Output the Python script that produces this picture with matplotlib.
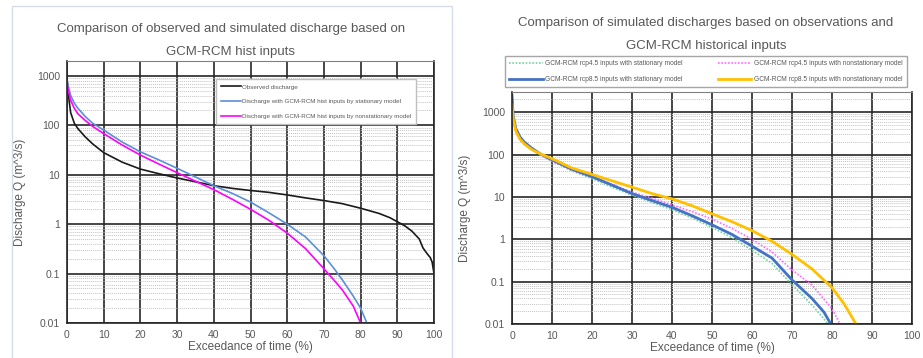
import matplotlib
matplotlib.use('Agg')
import matplotlib.pyplot as plt
from matplotlib.patches import Rectangle
from matplotlib.ticker import FixedLocator, NullFormatter
import numpy as np

plt.rcParams['font.family'] = ['Liberation Sans Narrow', 'Liberation Sans', 'DejaVu Sans']

# ---- left chart: observed vs GCM-RCM hist ----
obs_x = [0, 0.5, 1, 2, 3, 5, 7, 10, 15, 20, 25, 30, 35, 40, 45, 50, 55, 60, 65, 70, 75,
         80, 85, 88, 90, 92, 94, 96, 97, 98, 99, 99.5, 100]
obs_q = [900, 350, 180, 110, 85, 58, 42, 28, 18, 13, 10.5, 8.6, 7.2, 6.0, 5.3, 4.8, 4.4,
         3.9, 3.4, 3.0, 2.6, 2.1, 1.65, 1.35, 1.12, 0.93, 0.72, 0.5, 0.33, 0.26, 0.21, 0.17, 0.1]

hist_stat_x = [0, 0.5, 1, 2, 3, 5, 7, 10, 15, 20, 25, 30, 35, 40, 45, 50, 55, 60, 65, 70,
               73, 75, 78, 80, 81.7]
hist_stat_q = [800, 550, 400, 280, 220, 150, 110, 80, 46, 29, 20, 13.5, 9, 6.0, 4.2, 2.8,
               1.7, 1.0, 0.55, 0.23, 0.12, 0.075, 0.035, 0.02, 0.01]

hist_nonstat_x = [0, 0.5, 1, 2, 3, 5, 7, 10, 15, 20, 25, 30, 35, 40, 45, 50, 55, 60, 65, 70,
                  73, 75, 78, 80]
hist_nonstat_q = [700, 450, 320, 220, 170, 125, 95, 68, 40, 25, 16.5, 11, 7.4, 5.0, 3.2, 2.0,
                  1.2, 0.66, 0.32, 0.125, 0.07, 0.047, 0.022, 0.01]

# ---- right chart: rcp scenarios ----
rcp45_stat_x = [0, 0.3, 1, 2, 3, 5, 7, 10, 15, 20, 25, 30, 35, 40, 45, 50, 55, 60, 65, 70,
                75, 77, 79]
rcp45_stat_q = [3000, 750, 380, 250, 190, 135, 100, 70, 41, 27, 17, 11, 7.4, 5.0, 3.2, 1.9,
                1.1, 0.55, 0.27, 0.085, 0.028, 0.017, 0.01]

rcp45_nonstat_x = [0, 0.3, 1, 2, 3, 5, 7, 10, 15, 20, 25, 30, 35, 40, 45, 50, 55, 60, 65, 70,
                   75, 80, 82]
rcp45_nonstat_q = [1200, 600, 330, 230, 180, 130, 100, 70, 43, 30, 20, 13, 9.3, 6.5, 4.5, 3.0,
                   1.8, 1.0, 0.5, 0.19, 0.083, 0.023, 0.01]

rcp85_stat_x = [0, 0.3, 1, 2, 3, 5, 7, 10, 15, 20, 25, 30, 35, 40, 45, 50, 55, 60, 65, 70,
                75, 78, 79.7]
rcp85_stat_q = [2500, 800, 400, 260, 200, 140, 105, 75, 45, 30, 19, 12, 8.2, 5.7, 3.6, 2.2,
                1.3, 0.69, 0.36, 0.11, 0.04, 0.019, 0.01]

rcp85_nonstat_x = [0, 0.3, 1, 2, 3, 5, 7, 10, 15, 20, 25, 30, 35, 40, 45, 50, 55, 60, 65, 70,
                   75, 80, 83, 86]
rcp85_nonstat_q = [1500, 700, 350, 230, 180, 130, 105, 80, 48, 34, 24, 17, 12, 9, 6.2, 4.0,
                   2.6, 1.6, 0.9, 0.44, 0.2, 0.072, 0.03, 0.01]

x_ticks = list(range(0, 101, 10))
y_ticks = [0.01, 0.1, 1, 10, 100, 1000]
y_tick_labels = ['0.01', '0.1', '1', '10', '100', '1000']

TXT = '#595959'
TITLE_SIZE = 9.5


def style_axes(ax, ytop):
    ax.set_yscale('log')
    ax.set_xlim(0, 100)
    ax.set_ylim(0.01, ytop)
    ax.xaxis.set_major_locator(FixedLocator(x_ticks))
    ax.set_xticklabels([str(t) for t in x_ticks])
    ax.yaxis.set_major_locator(FixedLocator(y_ticks))
    ax.set_yticklabels(y_tick_labels)
    ax.yaxis.set_minor_locator(FixedLocator(
        [m * 10.0 ** e for e in range(-2, 4) for m in range(2, 10)]))
    ax.yaxis.set_minor_formatter(NullFormatter())
    ax.tick_params(which='both', length=0, labelsize=7.5, labelcolor=TXT, pad=5)
    ax.grid(True, which='minor', axis='y', color='#c4c4c4', linestyle=(0, (1, 1)), lw=0.7)
    ax.grid(True, which='major', axis='both', color='#262626', linestyle='-', lw=1.2)
    ax.set_axisbelow(True)
    for s in ['left', 'right', 'bottom']:
        ax.spines[s].set_color('#262626')
        ax.spines[s].set_linewidth(1.2)
    ax.spines['top'].set_color('#808080')
    ax.spines['top'].set_linestyle((0, (1, 1)))
    ax.set_xlabel('Exceedance of time (%)', fontsize=8.5, color=TXT, labelpad=1)
    ax.set_ylabel('Discharge Q (m^3/s)', fontsize=8.5, color=TXT, labelpad=8)


fig = plt.figure(figsize=(9.23, 3.58), dpi=100)

# light frame of the left chart
fig.patches.append(Rectangle((12 / 923, -0.02), 440 / 923, 1 - 6 / 358 + 0.02,
                             transform=fig.transFigure, fill=False,
                             edgecolor='#d6dce5', lw=1))

ax1 = fig.add_axes([67 / 923, 1 - 323 / 358, 367 / 923, 262 / 358])
style_axes(ax1, 2000)
ax1.plot(obs_x, obs_q, color='#1a1a1a', lw=1.2, label='Observed discharge')
ax1.plot(hist_stat_x, hist_stat_q, color='#5b8fd8', lw=1.2,
         label='Discharge with GCM-RCM hist inputs by stationary model')
ax1.plot(hist_nonstat_x, hist_nonstat_q, color='#ff00ff', lw=1.2,
         label='Discharge with GCM-RCM hist inputs by nonstationary model')
leg1 = ax1.legend(loc='upper left', bbox_to_anchor=(213 / 923, 1 - 127 / 358, 206 / 923, 51 / 358),
                  bbox_transform=fig.transFigure, mode='expand', fontsize=4.5,
                  frameon=True, fancybox=False, edgecolor='#bfbfbf', framealpha=1,
                  handlelength=3.2, labelspacing=1.5, borderpad=0.8, handletextpad=0.2)
for t in leg1.get_texts():
    t.set_color(TXT)
fig.text(231 / 923, 1 - 29 / 358, 'Comparison of observed and simulated discharge based on',
         ha='center', va='center', fontsize=TITLE_SIZE, color=TXT)
fig.text(231 / 923, 1 - 52 / 358, 'GCM-RCM hist inputs',
         ha='center', va='center', fontsize=TITLE_SIZE, color=TXT)

ax2 = fig.add_axes([512 / 923, 1 - 324 / 358, 400 / 923, 232 / 358])
style_axes(ax2, 3000)
ax2.plot(rcp45_stat_x, rcp45_stat_q, color='#6fd49f', lw=1.2, linestyle=(0, (1, 1)),
         label='GCM-RCM rcp4.5 inputs with stationary model')
ax2.plot(rcp45_nonstat_x, rcp45_nonstat_q, color='#ff6bff', lw=1.2, linestyle=(0, (1, 1)),
         label='GCM-RCM rcp4.5 inputs with nonstationary model')
ax2.plot(rcp85_stat_x, rcp85_stat_q, color='#4472c4', lw=2.0,
         label='GCM-RCM rcp8.5 inputs with stationary model')
ax2.plot(rcp85_nonstat_x, rcp85_nonstat_q, color='#ffc000', lw=2.0,
         label='GCM-RCM rcp8.5 inputs with nonstationary model')
handles, labels = ax2.get_legend_handles_labels()
order = [0, 2, 1, 3]
leg2 = fig.legend([handles[i] for i in order], [labels[i] for i in order],
                  loc='upper left', bbox_to_anchor=(502 / 923, 1 - 87 / 358, 408 / 923, 34 / 358),
                  mode='expand', ncol=2, fontsize=4.8, frameon=True, fancybox=False,
                  edgecolor='#a6a6a6', framealpha=1, handlelength=5, labelspacing=1.3,
                  borderpad=0.6, handletextpad=0.4)
for t in leg2.get_texts():
    t.set_color(TXT)
fig.text(706 / 923, 1 - 23 / 358, 'Comparison of simulated discharges based on observations and',
         ha='center', va='center', fontsize=TITLE_SIZE, color=TXT)
fig.text(706 / 923, 1 - 46 / 358, 'GCM-RCM historical inputs',
         ha='center', va='center', fontsize=TITLE_SIZE, color=TXT)

fig.savefig('out.png', dpi=100)
